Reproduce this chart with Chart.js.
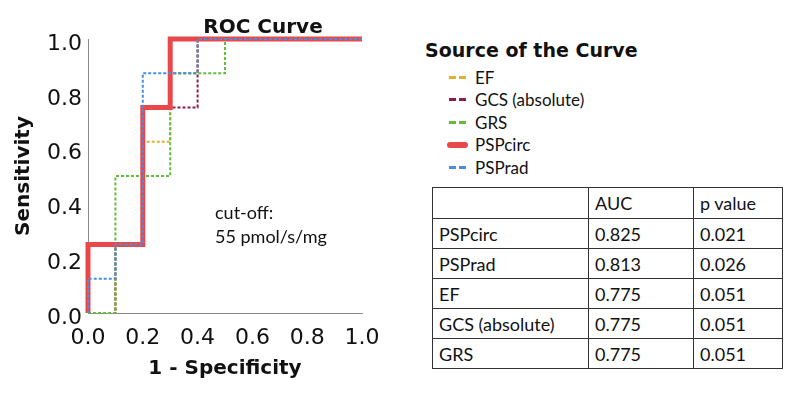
<!DOCTYPE html>
<html>
<head>
<meta charset="utf-8">
<script src="https://cdn.jsdelivr.net/npm/chart.js@4/dist/chart.umd.min.js"></script>
<style>
  body { margin: 0; width: 800px; height: 396px; position: relative; background: #fff; overflow: hidden; }
  #wrap { position: absolute; left: 0; top: 0; width: 400px; height: 396px; }
  .bold { font-family: "DejaVu Sans", sans-serif; font-weight: bold; color: #111; position: absolute; white-space: nowrap; }
  #title { left: 163px; width: 200px; top: 14px; text-align: center; font-size: 20px; line-height: 24px; }
  #cutoff { position: absolute; left: 215px; top: 200px; font-family: Lato, sans-serif; font-size: 18px; line-height: 24px; color: #111; }
  #legTitle { left: 425px; top: 39px; font-size: 19px; line-height: 22px; }
  #legend { position: absolute; left: 447px; top: 66px; font-family: Lato, sans-serif; font-size: 17px; color: #111; }
  #legend .row { height: 22.5px; display: flex; align-items: center; }
  #legend .sw { width: 21px; height: 3px; margin-right: 7px; }
  table { position: absolute; left: 432px; top: 187px; border-collapse: collapse; font-family: Lato, sans-serif; font-size: 18px; color: #111; }
  td { border: 1px solid #333; padding: 0 0 0 6px; height: 29px; text-align: left; }
  tr:first-child td { height: 30px; }
</style>
</head>
<body>
<div id="wrap"><canvas id="roc"></canvas></div>
<div id="title" class="bold">ROC Curve</div>
<div id="cutoff">cut-off:<br>55 pmol/s/mg</div>
<div id="legTitle" class="bold">Source of the Curve</div>
<div id="legend"></div>
<table id="stats"></table>
<script>
// curve names, legend order
const curveNames = ['EF', 'GCS (absolute)', 'GRS', 'PSPcirc', 'PSPrad'];
const curveColors = ['#e0b32a', '#8c1c4b', '#62bd3c', '#e8484a', '#4a8ee0'];

// ROC vertices: 1 - specificity / sensitivity
const efFpr = [0, 0.1, 0.1, 0.2, 0.2, 0.3, 0.3, 0.4, 0.4, 1];
const efTpr = [0, 0, 0.25, 0.25, 0.625, 0.625, 0.875, 0.875, 1, 1];
const gcsFpr = [0, 0.1, 0.1, 0.2, 0.2, 0.4, 0.4, 1];
const gcsTpr = [0, 0, 0.25, 0.25, 0.75, 0.75, 1, 1];
const grsFpr = [0, 0.1, 0.1, 0.3, 0.3, 0.5, 0.5, 1];
const grsTpr = [0, 0, 0.5, 0.5, 0.875, 0.875, 1, 1];
const circFpr = [0, 0, 0.2, 0.2, 0.3, 0.3, 1];
const circTpr = [0, 0.25, 0.25, 0.75, 0.75, 1, 1];
const radFpr = [0, 0, 0.1, 0.1, 0.2, 0.2, 0.4, 0.4, 1];
const radTpr = [0, 0.125, 0.125, 0.25, 0.25, 0.875, 0.875, 1, 1];

// AUC table
const tableRows = ['PSPcirc', 'PSPrad', 'EF', 'GCS (absolute)', 'GRS'];
const aucValues = ['0.825', '0.813', '0.775', '0.775', '0.775'];
const pValues = ['0.021', '0.026', '0.051', '0.051', '0.051'];

const axisTicks = [0, 0.2, 0.4, 0.6, 0.8, 1.0];

function toPoints(xs, ys) {
  return xs.map((x, i) => ({ x: x, y: ys[i] }));
}

const curves = [
  [efFpr, efTpr], [gcsFpr, gcsTpr], [grsFpr, grsTpr], [circFpr, circTpr], [radFpr, radTpr],
];

const datasets = curves.map((c, i) => {
  const solid = curveNames[i] === 'PSPcirc';
  return {
    label: curveNames[i],
    data: toPoints(c[0], c[1]),
    borderColor: curveColors[i],
    borderWidth: solid ? 5 : 2,
    borderDash: solid ? [] : [3, 2],
    borderCapStyle: 'butt',
    pointRadius: 0,
    tension: 0,
    fill: false,
    clip: 4,
    order: curves.length - 1 - i,
  };
});

Chart.defaults.font.family = '"DejaVu Sans", sans-serif';
Chart.defaults.color = '#111';

new Chart(document.getElementById('roc').getContext('2d'), {
  type: 'line',
  data: { datasets: datasets },
  options: {
    responsive: true,
    maintainAspectRatio: false,
    animation: false,
    events: [],
    layout: { padding: { left: 0, top: 39, right: 38, bottom: 15 } },
    plugins: { legend: { display: false }, tooltip: { enabled: false } },
    scales: {
      x: {
        type: 'linear',
        min: 0,
        max: 1,
        afterBuildTicks(scale) { scale.ticks = axisTicks.map((v) => ({ value: v })); },
        afterFit(scale) { scale.height = 68; },
        grid: { display: false, drawTicks: false },
        border: { display: true, color: '#8a8a8a', width: 1 },
        ticks: { font: { size: 22 }, padding: 12, callback: (v) => v.toFixed(1) },
        title: { display: true, text: '1 - Specificity', font: { size: 20, weight: 'bold' }, padding: { top: 0, bottom: 0 } },
      },
      y: {
        type: 'linear',
        min: 0,
        max: 1,
        afterBuildTicks(scale) { scale.ticks = axisTicks.map((v) => ({ value: v })); },
        afterFit(scale) { scale.width = 88; },
        grid: { display: false, drawTicks: false },
        border: { display: true, color: '#8a8a8a', width: 1 },
        ticks: { font: { size: 22 }, padding: 6, labelOffset: 5, callback: (v) => v.toFixed(1) },
        title: { display: true, text: 'Sensitivity', font: { size: 20, weight: 'bold' }, padding: { top: 12, bottom: 0 } },
      },
    },
  },
});

// legend
const legend = document.getElementById('legend');
curveNames.forEach((name, i) => {
  const row = document.createElement('div');
  row.className = 'row';
  const sw = document.createElement('div');
  sw.className = 'sw';
  if (name === 'PSPcirc') {
    sw.style.height = '6px';
    sw.style.borderRadius = '3px';
    sw.style.background = curveColors[i];
  } else {
    sw.style.background = 'repeating-linear-gradient(90deg, ' + curveColors[i] + ' 0 7px, transparent 7px 10px)';
    sw.style.width = '17px';
    sw.style.marginLeft = '2px';
    sw.style.marginRight = '9px';
  }
  row.appendChild(sw);
  row.appendChild(document.createTextNode(name));
  legend.appendChild(row);
});

// table
const table = document.getElementById('stats');
const header = table.insertRow();
['', 'AUC', 'p value'].forEach((t) => { header.insertCell().textContent = t; });
tableRows.forEach((name, i) => {
  const tr = table.insertRow();
  tr.insertCell().textContent = name;
  tr.insertCell().textContent = aucValues[i];
  tr.insertCell().textContent = pValues[i];
});
const widths = [149, 98, 82];
Array.from(header.cells).forEach((c, i) => { c.style.width = widths[i] + 'px'; });
</script>
</body>
</html>
